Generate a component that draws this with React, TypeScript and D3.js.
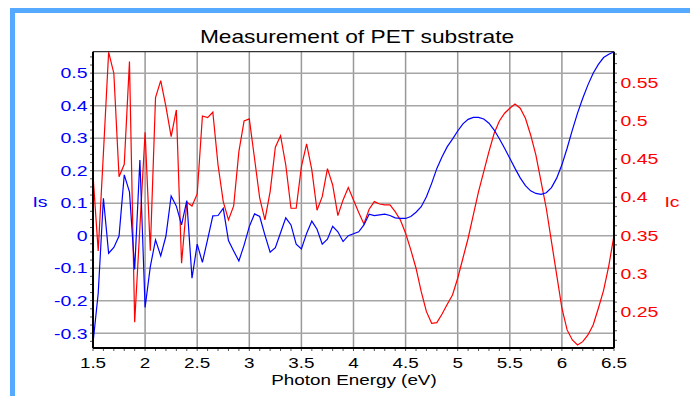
import React from "react";
import * as d3 from "d3";

const E_START = 1.5;
const E_STEP = 0.05;

const isValues = [
  -0.331, -0.177, 0.115, -0.054, -0.036, -0.001, 0.187, 0.135, -0.104, 0.233,
  -0.221, -0.095, -0.013, -0.062, -0.001, 0.122, 0.091, 0.033, 0.108, -0.131,
  -0.026, -0.082, -0.011, 0.061, 0.062, 0.084, -0.015, -0.047, -0.078, -0.029,
  0.028, 0.067, 0.059, 0.002, -0.051, -0.037, 0.009, 0.055, 0.033, -0.026,
  -0.041, 0.007, 0.045, 0.02, -0.026, -0.011, 0.029, 0.012, -0.018, 0.0,
  0.006, 0.012, 0.033, 0.066, 0.062, 0.064, 0.066, 0.062, 0.055, 0.053,
  0.053, 0.059, 0.072, 0.089, 0.12, 0.161, 0.207, 0.243, 0.274, 0.297,
  0.322, 0.344, 0.358, 0.364, 0.364, 0.359, 0.346, 0.325, 0.298, 0.269,
  0.238, 0.207, 0.178, 0.154, 0.138, 0.13, 0.127, 0.132, 0.148, 0.177,
  0.218, 0.269, 0.325, 0.377, 0.423, 0.464, 0.5, 0.527, 0.548, 0.558,
  0.566,
];

const icValues = [
  0.429, 0.3296, 0.458, 0.59, 0.5624, 0.4269, 0.4431, 0.5776, 0.2362, 0.3606,
  0.4851, 0.33, 0.5304, 0.5527, 0.5186, 0.4793, 0.5143, 0.3134, 0.3934, 0.3885,
  0.4042, 0.5064, 0.5042, 0.5113, 0.4422, 0.3942, 0.3702, 0.3885, 0.4597, 0.4999,
  0.5025, 0.451, 0.3986, 0.3702, 0.4073, 0.4654, 0.4806, 0.4422, 0.3855, 0.3855,
  0.44, 0.4697, 0.4357, 0.3829, 0.4007, 0.4374, 0.416, 0.3758, 0.3964, 0.4125,
  0.3964, 0.3798, 0.3649, 0.3842, 0.3942, 0.3911, 0.3898, 0.3898, 0.3811, 0.3702,
  0.3527, 0.3309, 0.3069, 0.2762, 0.25, 0.2348, 0.2357, 0.247, 0.2597, 0.2719,
  0.2938, 0.32, 0.3462, 0.3767, 0.4073, 0.4335, 0.4597, 0.4838, 0.4999, 0.51,
  0.5165, 0.5221, 0.5165, 0.5034, 0.4815, 0.4553, 0.4204, 0.3855, 0.3418, 0.2981,
  0.2545, 0.2261, 0.213, 0.2064, 0.2107, 0.2195, 0.2326, 0.2545, 0.278, 0.31,
  0.35,
];

const xTicks = [1.5, 2, 2.5, 3, 3.5, 4, 4.5, 5, 5.5, 6, 6.5];
const isTicks = [-0.3, -0.2, -0.1, 0, 0.1, 0.2, 0.3, 0.4, 0.5];
const icTicks = [0.25, 0.3, 0.35, 0.4, 0.45, 0.5, 0.55];

const TITLE = "Measurement of PET substrate";
const X_TITLE = "Photon Energy (eV)";
const IS_TITLE = "Is";
const IC_TITLE = "Ic";

const W = 690;
const H = 396;
const L = 93;
const R = 614;
const T = 51.7;
const B = 348;
const FONT = "'Liberation Sans', Arial, sans-serif";
const BLUE = "#0000ff";
const RED = "#ff0000";
const SX = 1.3;

type TProps = {
  x: number;
  y: number;
  size: number;
  fill: string;
  anchor: "start" | "middle" | "end";
  children: React.ReactNode;
};

function SText({ x, y, size, fill, anchor, children }: TProps) {
  return (
    <text
      transform={`translate(${x},${y}) scale(${SX},1)`}
      textAnchor={anchor}
      fontFamily={FONT}
      fontSize={size}
      fill={fill}
    >
      {children}
    </text>
  );
}

export default function App() {
  const x = d3.scaleLinear().domain([1.5, 6.5]).range([L, R]);
  const yIs = d3.scaleLinear().domain([-0.3455, 0.566]).range([B, T]);
  const yIc = d3.scaleLinear().domain([0.2024, 0.5906]).range([B, T]);

  const energies = isValues.map((_, i) => E_START + i * E_STEP);
  const isLine = d3
    .line<number>()
    .x((_, i) => x(energies[i]))
    .y((d) => yIs(d));
  const icLine = d3
    .line<number>()
    .x((_, i) => x(energies[i]))
    .y((d) => yIc(d));

  const xMinor = d3.range(15, 66).map((v) => v / 10);
  const isMinor = d3.range(-13, 23).map((v) => v * 0.025);
  const icMinor = d3.range(17, 48).map((v) => v * 0.0125);

  const fmt = (v: number) => String(+v.toFixed(3));

  return (
    <svg
      width={W}
      height={H}
      style={{ position: "absolute", left: 0, top: 0, background: "#fff" }}
    >
      <rect x={0} y={0} width={W} height={H} fill="#fff" />
      {/* outer blue frame */}
      <rect x={10} y={8} width={5} height={H - 8} fill="#55aaff" />
      <rect x={10} y={8} width={W - 10} height={5} fill="#55aaff" />

      <SText x={357} y={42.5} size={17.5} fill="#000" anchor="middle">
        {TITLE}
      </SText>

      {/* grid */}
      {xTicks.map((t) => (
        <line
          key={"gx" + t}
          x1={x(t)}
          x2={x(t)}
          y1={T}
          y2={B}
          stroke="#999"
          strokeWidth={1.5}
        />
      ))}
      {isTicks.map((t) => (
        <line
          key={"gy" + t}
          x1={L}
          x2={R}
          y1={yIs(t)}
          y2={yIs(t)}
          stroke="#a6a6a6"
          strokeWidth={1.5}
        />
      ))}

      {/* minor ticks */}
      {xMinor.map((t) => (
        <line
          key={"mx" + t}
          x1={x(t)}
          x2={x(t)}
          y1={B}
          y2={B + 3}
          stroke="#555"
          strokeWidth={1}
        />
      ))}
      {isMinor.map((t) => (
        <line
          key={"ml" + t}
          x1={L - 3}
          x2={L}
          y1={yIs(t)}
          y2={yIs(t)}
          stroke="#555"
          strokeWidth={1}
        />
      ))}
      {icMinor.map((t) => (
        <line
          key={"mr" + t}
          x1={R}
          x2={R + 3}
          y1={yIc(t)}
          y2={yIc(t)}
          stroke="#555"
          strokeWidth={1}
        />
      ))}

      {/* data */}
      <path
        d={icLine(icValues) || ""}
        fill="none"
        stroke={RED}
        strokeWidth={1.2}
      />
      <path
        d={isLine(isValues) || ""}
        fill="none"
        stroke={BLUE}
        strokeWidth={1.2}
      />

      {/* frame */}
      <line x1={L} x2={R} y1={T} y2={T} stroke="#333" strokeWidth={1.2} />
      <line x1={L} x2={R} y1={B} y2={B} stroke="#000" strokeWidth={2} />
      <line x1={L} x2={L} y1={T} y2={B} stroke="#000" strokeWidth={2} />
      <line x1={R} x2={R} y1={T} y2={B} stroke="#000" strokeWidth={2} />

      {/* tick labels */}
      {xTicks.map((t) => (
        <SText key={"lx" + t} x={x(t)} y={368} size={14.5} fill="#000" anchor="middle">
          {fmt(t)}
        </SText>
      ))}
      {isTicks.map((t) => (
        <SText key={"ll" + t} x={87.5} y={yIs(t) + 5.3} size={15} fill={BLUE} anchor="end">
          {fmt(t)}
        </SText>
      ))}
      {icTicks.map((t) => (
        <SText key={"lr" + t} x={620.5} y={yIc(t) + 5.3} size={15} fill={RED} anchor="start">
          {fmt(t)}
        </SText>
      ))}

      {/* axis titles */}
      <SText x={354} y={385} size={14.5} fill="#000" anchor="middle">
        {X_TITLE}
      </SText>
      <SText x={40} y={207} size={15} fill={BLUE} anchor="middle">
        {IS_TITLE}
      </SText>
      <SText x={672} y={207} size={15} fill={RED} anchor="middle">
        {IC_TITLE}
      </SText>
    </svg>
  );
}
